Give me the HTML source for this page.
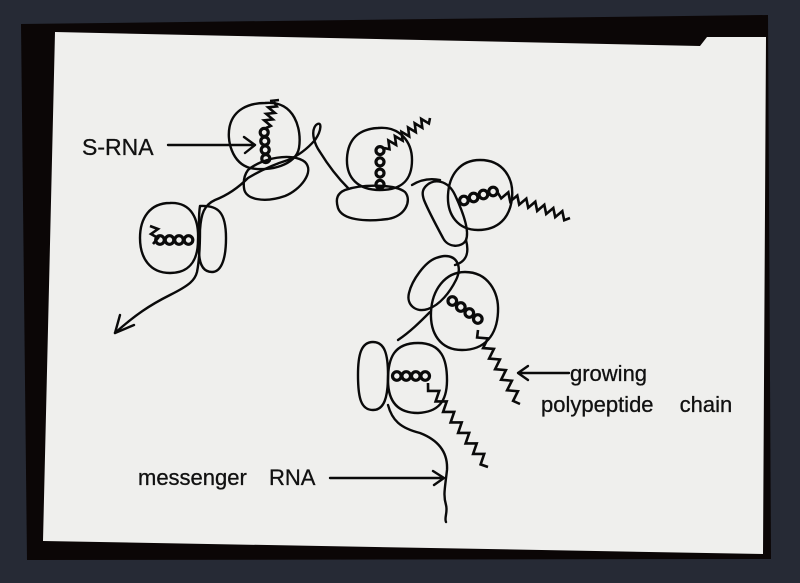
<!DOCTYPE html>
<html><head><meta charset="utf-8">
<style>
html,body{margin:0;padding:0;background:#262a35;}
svg{display:block}
text{font-family:"Liberation Sans",sans-serif;fill:#111;stroke:#111;stroke-width:0.3;}
</style></head>
<body>
<svg width="800" height="583" viewBox="0 0 800 583" xmlns="http://www.w3.org/2000/svg">
<rect width="800" height="583" fill="#262a35"/>
<polygon points="21,24 768,15 771,559 27,560" fill="#0b0606"/>
<polygon points="55,32 700,46 707,37 766,37 763,554 43,541" fill="#efefed"/>
<g fill="none" stroke="#0a0a0a" stroke-width="2.4" stroke-linecap="round" stroke-linejoin="round">
<path d="M265,103 C295,100 302,130 299,148 C296,165 270,172 250,168 C232,163 226,140 230,125 C234,110 248,103 265,103 Z"/>
<path d="M248,170 C262,158 292,152 305,162 C315,172 300,190 285,196 C265,203 245,200 244,188 C243,180 245,174 248,170 Z"/>
<path d="M170,203 C192,202 199,220 198,240 C198,262 188,273 170,273 C150,273 140,258 140,238 C140,218 150,203 170,203 Z"/>
<path d="M200,206 C218,205 226,212 226,238 C226,262 220,272 212,272 C204,272 199,266 199,250 L199,222 C199,212 200,206 200,206 Z"/>
<path d="M378,128 C400,126 412,142 412,160 C412,180 402,190 380,190 C358,190 346,178 347,158 C348,140 358,129 378,128 Z"/>
<path d="M345,190 C362,184 395,184 405,192 C412,200 406,216 388,219 C365,222 342,220 338,208 C335,198 338,193 345,190 Z"/>
<path d="M480,160 C503,160 514,178 512,198 C510,218 498,230 478,230 C458,230 447,215 448,195 C449,175 460,160 480,160 Z"/>
<path d="M426,186 C434,178 448,180 455,195 C462,210 470,230 466,240 C462,248 448,248 443,238 C436,225 428,210 424,200 C422,194 422,190 426,186 Z"/>
<path d="M465,272 C488,272 499,292 498,312 C497,335 485,350 462,350 C440,350 430,333 431,312 C432,290 445,272 465,272 Z"/>
<path d="M445,256 C458,256 462,268 456,280 C450,292 440,305 428,309 C416,313 406,305 409,293 C412,280 425,262 436,258 C439,257 442,256 445,256 Z"/>
<path d="M418,343 C442,343 447,360 447,380 C447,402 438,412 418,413 C398,413 388,402 388,380 C388,358 394,343 418,343 Z"/>
<path d="M373,342 C385,342 388,355 388,375 C388,398 384,410 373,410 C361,410 358,398 358,375 C358,355 361,342 373,342 Z"/>
<path d="M115,333 C135,315 150,305 170,295 C190,285 195,280 197,272 C199,262 200,245 200,230 C201,214 204,205 215,200 C228,195 238,188 248,178 C258,172 272,165 288,160 C300,155 308,148 315,140 C322,130 322,120 316,125 C310,132 315,145 320,152 C328,165 338,178 348,188"/>
<path d="M115,333 L120,315 M115,333 L134,325"/>
<path d="M412,185 C420,180 430,178 440,180"/>
<path d="M466,240 C470,255 465,262 455,265"/>
<path d="M430,312 C420,322 410,332 398,340"/>
<path d="M388,405 C392,420 400,428 420,433 C438,440 448,452 447,470 C445,488 443,495 446,505 C448,512 444,518 446,522"/>
<path d="M168,145 L255,145 M244,137 L255,145 L245,153"/>
<path d="M330,478 L444,478 M433,471 L444,478 L434,485"/>
<path d="M569,373 L518,373 M528,366 L518,373 L528,380"/>
</g>
<g fill="none" stroke="#0a0a0a" stroke-width="2.6" stroke-linejoin="miter">
<path d="M266,128 L270.8,125.9 L264.2,120.3 L272.8,119.4 L266.2,113.8 L274.8,112.9 L268.2,107.3 L276.8,106.4 L274,102 M270,101 L279,100"/>
<path d="M150,226 L158,229 L151,234 L158,238 L153,244"/>
<path d="M384,148 L389.5,149.2 L388.4,140.4 L396.1,144.9 L394.9,136.1 L402.6,140.6 L401.5,131.8 L409.2,136.4 L408.1,127.5 L415.8,132.1 L414.7,123.2 L422.3,127.8 L421.2,118.9 L428.9,123.5 L430,118"/>
<path d="M498,193 L501.2,198.4 L508.3,192.3 L510.2,201.5 L517.3,195.5 L519.2,204.6 L526.3,198.6 L528.2,207.7 L535.3,201.7 L537.2,210.9 L544.3,204.8 L546.2,214 L553.3,208 L555.2,217.1 L562.3,211.1 L564.2,220.2 L570,218"/>
<path d="M478,330 L477.1,337.5 L487.9,338.4 L483.1,348.1 L493.9,348.9 L489.1,358.6 L499.9,359.5 L495.1,369.2 L505.9,370.1 L501.1,379.8 L511.9,380.7 L507.1,390.3 L517.9,391.2 L513.1,400.9 L520,404"/>
<path d="M428,383 L428.1,390.9 L439.2,390.9 L435.6,401.4 L446.7,401.4 L443.1,411.9 L454.2,411.9 L450.6,422.4 L461.7,422.4 L458.1,432.9 L469.2,432.9 L465.6,443.4 L476.7,443.4 L473.1,453.9 L484.2,453.9 L480.6,464.4 L488,467"/>
</g>
<g fill="none" stroke="#0a0a0a" stroke-width="3.2">
<circle cx="264.2" cy="132.4" r="4"/><circle cx="264.8" cy="141.1" r="4"/><circle cx="265.2" cy="149.9" r="4"/><circle cx="265.8" cy="158.6" r="4"/>
<circle cx="160" cy="240" r="4.3"/><circle cx="169.5" cy="240" r="4.3"/><circle cx="179" cy="240" r="4.3"/><circle cx="188.5" cy="240" r="4.3"/>
<circle cx="380" cy="150.6" r="4"/><circle cx="380" cy="161.9" r="4"/><circle cx="380" cy="173.1" r="4"/><circle cx="380" cy="184.4" r="4"/>
<circle cx="463.9" cy="200.5" r="4.3"/><circle cx="473.6" cy="197.5" r="4.3"/><circle cx="483.4" cy="194.5" r="4.3"/><circle cx="493.1" cy="191.5" r="4.3"/>
<circle cx="452.3" cy="301" r="4.3"/><circle cx="460.8" cy="307" r="4.3"/><circle cx="469.3" cy="313" r="4.3"/><circle cx="477.8" cy="319" r="4.3"/>
<circle cx="396.8" cy="376" r="4.3"/><circle cx="406.2" cy="376" r="4.3"/><circle cx="415.8" cy="376" r="4.3"/><circle cx="425.2" cy="376" r="4.3"/>
</g>
<text x="82" y="155" font-size="23">S-RNA</text>
<text x="570" y="381" font-size="22">growing</text>
<text x="541" y="412" font-size="22" word-spacing="20">polypeptide chain</text>
<text x="138" y="485" font-size="22" word-spacing="16">messenger RNA</text>
</svg>
</body></html>
